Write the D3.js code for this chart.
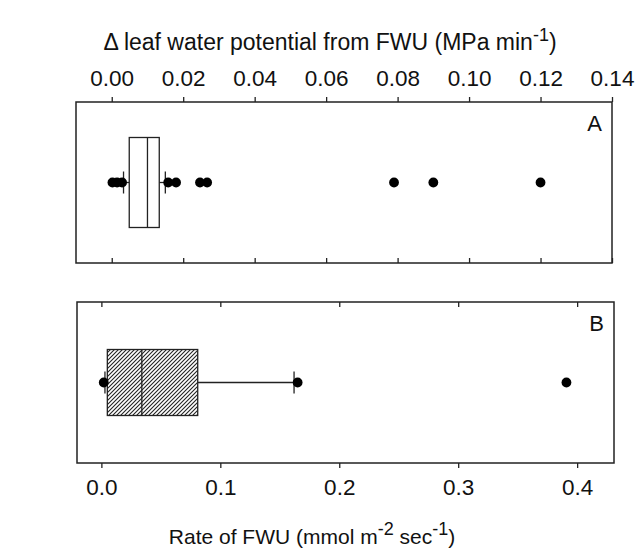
<!DOCTYPE html>
<html>
<head>
    <meta charset="utf-8">
    <title>fwu-boxplots</title>
    <style>
body { margin: 0; background: #fff; }
text { font-family: "Liberation Sans", Arial, sans-serif; fill: #111; }
.frame { fill: none; stroke: #222; stroke-width: 1.5; }
.axis path { display: none; }
.axis line { stroke: #222; stroke-width: 1.3; }
.axis text { font-family: "Liberation Sans", Arial, sans-serif; fill: #111; }
.box { stroke: #222; stroke-width: 1.3; }
.whisker { stroke: #222; stroke-width: 1.3; }
.dot { fill: #000; }
    </style>
</head>
<body>
<script src="https://cdn.jsdelivr.net/npm/d3@7"></script>
<script>
// panel A: change in leaf water potential (MPa/min), top axis
var ticksA = [0, 0.02, 0.04, 0.06, 0.08, 0.10, 0.12, 0.14];
// whisker low, q1, median, q3, whisker high
var boxA = [0.0033, 0.0049, 0.0100, 0.0133, 0.0150];
var outliersA = [0.0002, 0.0015, 0.0029, 0.0158, 0.0180, 0.0247, 0.0267, 0.079, 0.090, 0.120];

// panel B: rate of FWU (mmol m-2 s-1), bottom axis
var ticksB = [0.0, 0.1, 0.2, 0.3, 0.4];
var boxB = [0.003, 0.005, 0.034, 0.081, 0.162];
var outliersB = [0.002, 0.165, 0.391];

var svg = d3.select("body").append("svg")
    .attr("width", 638)
    .attr("height", 554);

// hatch for the second box
svg.append("defs").append("pattern")
    .attr("id", "hatch")
    .attr("patternUnits", "userSpaceOnUse")
    .attr("width", 4).attr("height", 4)
  .append("path")
    .attr("d", "M-1,1 l2,-2 M0,4 l4,-4 M3,5 l2,-2")
    .attr("stroke", "#222")
    .attr("stroke-width", 1.1);

var panelA = { left: 76, right: 612, top: 102, bottom: 263, boxH: 90 };
var panelB = { left: 77, right: 614, top: 302, bottom: 463, boxH: 66 };

var xA = d3.scaleLinear().domain([-0.01, 0.14]).range([panelA.left, panelA.right]);
var xB = d3.scaleLinear().domain([-0.0205, 0.431]).range([panelB.left, panelB.right]);

function drawPanel(p, x, stats, outliers, fill, label) {
    var g = svg.append("g");
    var cy = (p.top + p.bottom) / 2;
    var capH = 22;

    // whiskers
    g.append("line").attr("class", "whisker")
        .attr("x1", x(stats[0])).attr("x2", x(stats[1])).attr("y1", cy).attr("y2", cy);
    g.append("line").attr("class", "whisker")
        .attr("x1", x(stats[3])).attr("x2", x(stats[4])).attr("y1", cy).attr("y2", cy);
    [stats[0], stats[4]].forEach(function (v) {
        g.append("line").attr("class", "whisker")
            .attr("x1", x(v)).attr("x2", x(v))
            .attr("y1", cy - capH / 2).attr("y2", cy + capH / 2);
    });

    // box + median
    g.append("rect").attr("class", "box")
        .attr("x", x(stats[1]))
        .attr("width", x(stats[3]) - x(stats[1]))
        .attr("y", cy - p.boxH / 2)
        .attr("height", p.boxH)
        .attr("fill", fill);
    g.append("line").attr("class", "box")
        .attr("x1", x(stats[2])).attr("x2", x(stats[2]))
        .attr("y1", cy - p.boxH / 2).attr("y2", cy + p.boxH / 2);

    // outliers
    g.selectAll(".dot").data(outliers).enter()
        .append("circle").attr("class", "dot")
        .attr("cx", function (d) { return x(d); })
        .attr("cy", cy)
        .attr("r", 4.9);

    // frame
    g.append("rect").attr("class", "frame")
        .attr("x", p.left).attr("y", p.top)
        .attr("width", p.right - p.left).attr("height", p.bottom - p.top);

    g.append("text")
        .attr("x", p.right - 10).attr("y", p.top + 29)
        .attr("text-anchor", "end")
        .style("font-size", "22px")
        .text(label);
}

drawPanel(panelA, xA, boxA, outliersA, "#fff", "A");
drawPanel(panelB, xB, boxB, outliersB, "url(#hatch)", "B");

// panel A axes: labelled outward ticks on top, inward ticks at bottom
svg.append("g").attr("class", "axis")
    .attr("transform", "translate(0," + panelA.top + ")")
    .call(d3.axisTop(xA).tickValues(ticksA).tickFormat(d3.format(".2f"))
        .tickSizeInner(5).tickSizeOuter(0).tickPadding(11))
    .selectAll("text").style("font-size", "22.5px");
svg.append("g").attr("class", "axis")
    .attr("transform", "translate(0," + panelA.bottom + ")")
    .call(d3.axisBottom(xA).tickValues(ticksA).tickFormat("")
        .tickSizeInner(-5).tickSizeOuter(0));

// panel B axes: inward ticks on top, labelled outward ticks at bottom
svg.append("g").attr("class", "axis")
    .attr("transform", "translate(0," + panelB.top + ")")
    .call(d3.axisTop(xB).tickValues(ticksB).tickFormat("")
        .tickSizeInner(-5).tickSizeOuter(0));
svg.append("g").attr("class", "axis")
    .attr("transform", "translate(0," + panelB.bottom + ")")
    .call(d3.axisBottom(xB).tickValues(ticksB).tickFormat(d3.format(".1f"))
        .tickSizeInner(5).tickSizeOuter(0).tickPadding(11))
    .selectAll("text").style("font-size", "22.5px");

// axis titles
var topTitle = svg.append("text")
    .attr("x", 330).attr("y", 50)
    .attr("text-anchor", "middle")
    .style("font-size", "23px");
topTitle.append("tspan").text("\u0394 leaf water potential from FWU (MPa min");
topTitle.append("tspan").attr("dy", -9).style("font-size", "18px").text("-1");
topTitle.append("tspan").attr("dy", 9).text(")");

var bottomTitle = svg.append("text")
    .attr("x", 312).attr("y", 544)
    .attr("text-anchor", "middle")
    .style("font-size", "21px");
bottomTitle.append("tspan").text("Rate of FWU (mmol m");
bottomTitle.append("tspan").attr("dy", -9).style("font-size", "18px").text("-2");
bottomTitle.append("tspan").attr("dy", 9).text(" sec");
bottomTitle.append("tspan").attr("dy", -9).style("font-size", "18px").text("-1");
bottomTitle.append("tspan").attr("dy", 9).text(")");
</script>
</body>
</html>
